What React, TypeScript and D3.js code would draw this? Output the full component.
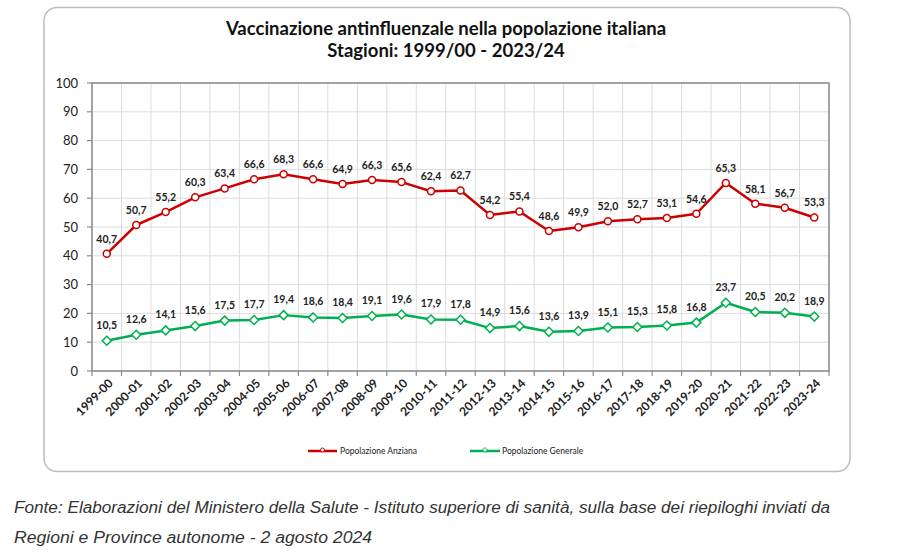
import React from "react";
import * as d3 from "d3";

const seasons = [
  "1999-00", "2000-01", "2001-02", "2002-03", "2003-04", "2004-05", "2005-06",
  "2006-07", "2007-08", "2008-09", "2009-10", "2010-11", "2011-12", "2012-13",
  "2013-14", "2014-15", "2015-16", "2016-17", "2017-18", "2018-19", "2019-20",
  "2020-21", "2021-22", "2022-23", "2023-24",
];
const anziana = [40.7, 50.7, 55.2, 60.3, 63.4, 66.6, 68.3, 66.6, 64.9, 66.3, 65.6, 62.4, 62.7, 54.2, 55.4, 48.6, 49.9, 52.0, 52.7, 53.1, 54.6, 65.3, 58.1, 56.7, 53.3];
const generale = [10.5, 12.6, 14.1, 15.6, 17.5, 17.7, 19.4, 18.6, 18.4, 19.1, 19.6, 17.9, 17.8, 14.9, 15.6, 13.6, 13.9, 15.1, 15.3, 15.8, 16.8, 23.7, 20.5, 20.2, 18.9];
const yTicks = [0, 10, 20, 30, 40, 50, 60, 70, 80, 90, 100];
const seriesNames = ["Popolazione Anziana", "Popolazione Generale"];
const titleLines = ["Vaccinazione antinfluenzale nella popolazione italiana", "Stagioni: 1999/00 - 2023/24"];
const footerLines = [
  "Fonte: Elaborazioni del Ministero della Salute - Istituto superiore di sanità, sulla base dei riepiloghi inviati da",
  "Regioni e Province autonome - 2 agosto 2024",
];

const RED = "#cc0000";
const GREEN = "#00b050";
const FONT = "Lato, 'Open Sans', sans-serif";

export default function App() {
  const left = 92, right = 829, top = 83, bottom = 371;
  const x = d3.scaleBand<string>().domain(seasons).range([left, right]).padding(0);
  const y = d3.scaleLinear().domain([0, 100]).range([bottom, top]);
  const cx = (s: string) => (x(s) as number) + x.bandwidth() / 2;
  const line = d3.line<number>().x((_, i) => cx(seasons[i])).y((v) => y(v));
  const fmt = (v: number) => v.toFixed(1).replace(".", ",");
  const boundaries = seasons.map((s) => x(s) as number).concat([right]);
  const diamond = (px: number, py: number, r: number) =>
    `M${px},${py - r}L${px + r},${py}L${px},${py + r}L${px - r},${py}Z`;
  const footerWidths = [816, 358];

  return (
    <svg width={900} height={556} style={{ position: "absolute", left: 0, top: 0, background: "#fff" }}>
      <rect x={44} y={7.5} width={806} height={464} rx={13} fill="#fff" stroke="#bdbdbd" strokeWidth={1.5} />
      {titleLines.map((t, i) => (
        <text key={i} x={446} y={35 + i * 22} textAnchor="middle" fontFamily={FONT} fontWeight="bold" fontSize={18.5} fill="#111">
          {t}
        </text>
      ))}
      {/* gridlines */}
      {yTicks.map((t) => (
        <line key={"h" + t} x1={left} x2={right} y1={y(t)} y2={y(t)} stroke="#dcdcdc" strokeWidth={1} />
      ))}
      {boundaries.map((b, i) => (
        <line key={"v" + i} x1={b} x2={b} y1={top} y2={bottom} stroke="#dcdcdc" strokeWidth={1} />
      ))}
      <rect x={left} y={top} width={right - left} height={bottom - top} fill="none" stroke="#8a8a8a" strokeWidth={1.5} />
      {/* y ticks */}
      {yTicks.map((t) => (
        <g key={"yt" + t}>
          <line x1={left - 5} x2={left} y1={y(t)} y2={y(t)} stroke="#8a8a8a" strokeWidth={1.2} />
          <text x={78} y={y(t)} dy="0.35em" textAnchor="end" fontFamily={FONT} fontSize={13} fill="#222">
            {t}
          </text>
        </g>
      ))}
      {/* x ticks */}
      {boundaries.map((b, i) => (
        <line key={"xt" + i} x1={b} x2={b} y1={bottom} y2={bottom + 5} stroke="#8a8a8a" strokeWidth={1.2} />
      ))}
      {seasons.map((s) => (
        <text
          key={"xl" + s}
          transform={`translate(${cx(s) + 4},${bottom + 10}) rotate(-45)`}
          textAnchor="end"
          dy="0.35em"
          fontFamily={FONT}
          fontWeight="bold"
          fontSize={12}
          fill="#222"
        >
          {s}
        </text>
      ))}
      {/* series */}
      <path d={line(anziana) as string} fill="none" stroke={RED} strokeWidth={2.5} strokeLinejoin="round" />
      <path d={line(generale) as string} fill="none" stroke={GREEN} strokeWidth={2.5} strokeLinejoin="round" />
      {anziana.map((v, i) => (
        <g key={"a" + i}>
          <circle cx={cx(seasons[i])} cy={y(v)} r={3.5} fill="#fff" stroke={RED} strokeWidth={1.5} />
          <text x={cx(seasons[i])} y={y(v) - 11} textAnchor="middle" fontFamily={FONT} fontWeight="bold" fontSize={10.5} fill="#222">
            {fmt(v)}
          </text>
        </g>
      ))}
      {generale.map((v, i) => (
        <g key={"g" + i}>
          <path d={diamond(cx(seasons[i]), y(v), 4.5)} fill="#fff" stroke={GREEN} strokeWidth={1.5} />
          <text x={cx(seasons[i])} y={y(v) - 12} textAnchor="middle" fontFamily={FONT} fontWeight="bold" fontSize={10.5} fill="#222">
            {fmt(v)}
          </text>
        </g>
      ))}
      {/* legend */}
      <g>
        <line x1={308} x2={337} y1={451} y2={451} stroke={RED} strokeWidth={2.5} />
        <circle cx={322.5} cy={450} r={2} fill="#fff" stroke={RED} strokeWidth={1} />
        <text x={340} y={451} dy="0.35em" fontFamily={FONT} fontSize={8.5} fill="#222">{seriesNames[0]}</text>
        <line x1={470} x2={500} y1={451} y2={451} stroke={GREEN} strokeWidth={2.5} />
        <path d={diamond(485, 450, 2.5)} fill="#fff" stroke={GREEN} strokeWidth={1} />
        <text x={502} y={451} dy="0.35em" fontFamily={FONT} fontSize={8.5} fill="#222">{seriesNames[1]}</text>
      </g>
      {footerLines.map((t, i) => (
        <text
          key={"f" + i}
          x={14}
          y={513 + i * 30}
          fontFamily="'Liberation Sans', Arial, sans-serif"
          fontStyle="italic"
          fontSize={16}
          fill="#333"
          textLength={footerWidths[i]}
          lengthAdjust="spacingAndGlyphs"
        >
          {t}
        </text>
      ))}
    </svg>
  );
}
